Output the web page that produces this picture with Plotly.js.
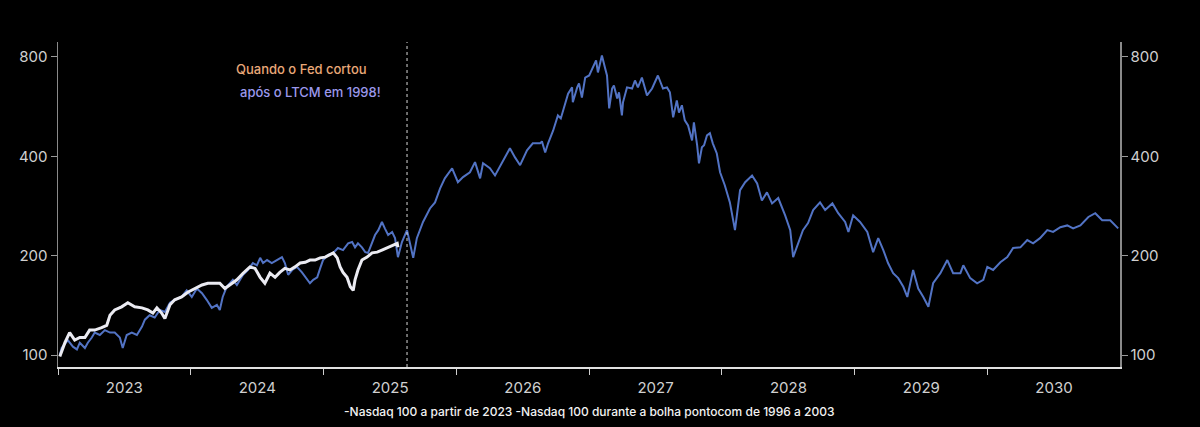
<!DOCTYPE html>
<html>
<head>
<meta charset="utf-8">
<script src="https://cdn.plot.ly/plotly-3.0.1.min.js"></script>
<style>
  html, body { margin: 0; padding: 0; background: #000; }
  #chart { width: 1200px; height: 427px; }
</style>
</head>
<body>
<div id="chart"></div>
<script>
// ---- Data (decimal years on the chart's time axis, values indexed to 100) ----
// Nasdaq 100 during the dot-com bubble 1996-2003 (shifted onto 2023-2030)
const dotcomYears = [
  2023.015, 2023.030, 2023.075, 2023.113, 2023.143, 2023.166, 2023.203, 2023.226, 2023.256, 2023.279,
  2023.316, 2023.354, 2023.392, 2023.429, 2023.467, 2023.490, 2023.520, 2023.557, 2023.595, 2023.633,
  2023.655, 2023.693, 2023.731, 2023.768, 2023.806, 2023.844, 2023.881, 2023.934, 2023.972, 2024.009,
  2024.047, 2024.085, 2024.122, 2024.160, 2024.198, 2024.220, 2024.243, 2024.273, 2024.318,
  2024.348, 2024.394, 2024.431, 2024.469, 2024.499, 2024.522, 2024.544, 2024.574, 2024.612, 2024.650,
  2024.687, 2024.710, 2024.733, 2024.763, 2024.800, 2024.838, 2024.861, 2024.898, 2024.921, 2024.951,
  2024.974, 2024.996, 2025.034, 2025.072, 2025.109, 2025.147, 2025.185, 2025.215, 2025.237, 2025.260,
  2025.290, 2025.313, 2025.335, 2025.365, 2025.388, 2025.411, 2025.441, 2025.463, 2025.486, 2025.516,
  2025.539, 2025.561, 2025.591, 2025.629, 2025.652, 2025.674,
  2025.704, 2025.749, 2025.802, 2025.840, 2025.878, 2025.915, 2025.968, 2026.013, 2026.051, 2026.104,
  2026.141, 2026.179, 2026.202, 2026.254, 2026.292, 2026.345, 2026.405, 2026.443, 2026.480, 2026.533,
  2026.578,
  2026.631, 2026.646, 2026.669, 2026.691, 2026.729, 2026.766, 2026.789, 2026.804, 2026.842, 2026.872,
  2026.879, 2026.910, 2026.925, 2026.947, 2026.970, 2027.000, 2027.030, 2027.053, 2027.068, 2027.098,
  2027.121, 2027.136, 2027.151, 2027.173, 2027.188, 2027.211, 2027.226, 2027.249, 2027.256, 2027.286,
  2027.324, 2027.347, 2027.369, 2027.399, 2027.437, 2027.475, 2027.520, 2027.557, 2027.588, 2027.610,
  2027.633, 2027.663, 2027.678, 2027.701, 2027.723, 2027.746, 2027.776, 2027.791, 2027.814, 2027.829,
  2027.851, 2027.866, 2027.889, 2027.911, 2027.934, 2027.964, 2027.987,
  2028.024, 2028.062, 2028.100, 2028.138, 2028.175, 2028.228, 2028.266, 2028.303, 2028.341,
  2028.379, 2028.424, 2028.476, 2028.514, 2028.537, 2028.574, 2028.612, 2028.650, 2028.687, 2028.740,
  2028.778, 2028.831, 2028.876, 2028.928, 2028.951, 2028.989, 2029.041, 2029.094, 2029.139, 2029.177,
  2029.215, 2029.252, 2029.290, 2029.328, 2029.365, 2029.395, 2029.441, 2029.478, 2029.516, 2029.554,
  2029.591, 2029.644, 2029.697, 2029.742, 2029.795, 2029.817, 2029.870, 2029.923, 2029.968, 2029.998,
  2030.043, 2030.096, 2030.149, 2030.194, 2030.247, 2030.299, 2030.345, 2030.397, 2030.450, 2030.495,
  2030.548, 2030.601, 2030.646, 2030.699, 2030.759, 2030.812, 2030.864, 2030.925, 2030.985
];
const dotcomValues = [
  100, 105, 111, 106, 104, 109, 105, 109, 113, 117,
  115, 119, 117, 117, 113, 105, 115, 117, 115, 122,
  128, 132, 130, 137, 135, 144, 147, 150, 157, 150,
  159, 154, 147, 139, 142, 137, 150, 161, 169,
  163, 175, 181, 190, 187, 197, 190, 194, 190, 194,
  198, 190, 175, 181, 185, 178, 172, 165, 169, 172,
  183, 194, 201, 204, 211, 208, 218, 220, 212, 218,
  212, 205, 204, 218, 231, 239, 253, 242, 231, 236,
  226, 198, 220, 239, 218, 197,
  226, 253, 278, 290, 320, 343, 368, 334, 346, 358,
  384, 343, 381, 368, 350, 384, 423, 397, 376, 417,
  438,
  438, 444, 411, 438, 479, 532, 521, 551, 619, 647,
  583, 647, 665, 603, 693, 703, 743, 781, 718, 808,
  738, 703, 559, 642, 656, 599, 625, 532, 583, 647,
  642, 679, 647, 693, 612, 642, 703, 642, 647, 625,
  525, 591, 543, 571, 514, 496, 447, 507, 432, 381,
  426, 432, 463, 470, 438, 408, 358,
  327, 290, 239, 316, 334, 350, 331, 294, 311,
  288, 299, 265, 239, 198, 218, 239, 251, 275, 290,
  275, 288, 269, 253, 236, 265, 253, 236, 205, 226,
  208, 190, 177, 171, 161, 150, 181, 159, 150, 140,
  165, 177, 194, 177, 177, 187, 171, 165, 169, 185,
  181, 191, 198, 211, 212, 223, 218, 226, 239, 236,
  244, 247, 242, 247, 262, 269, 256, 256, 242
];

// Nasdaq 100 from 2023
const nowYears = [
  2023.015, 2023.053, 2023.090, 2023.128, 2023.166, 2023.203, 2023.241, 2023.279, 2023.331, 2023.369,
  2023.392, 2023.429, 2023.482, 2023.527, 2023.580, 2023.633, 2023.678, 2023.716, 2023.746, 2023.783,
  2023.806, 2023.844, 2023.881, 2023.934, 2023.979, 2024.032, 2024.085, 2024.130, 2024.183, 2024.220,
  2024.258, 2024.348, 2024.394, 2024.446, 2024.484, 2024.522, 2024.559, 2024.597, 2024.635, 2024.672,
  2024.710, 2024.748, 2024.785, 2024.823, 2024.861, 2024.898, 2024.936, 2024.974, 2025.011, 2025.049,
  2025.072, 2025.102, 2025.124, 2025.147, 2025.177, 2025.200, 2025.222, 2025.237, 2025.260, 2025.290,
  2025.328, 2025.365, 2025.403, 2025.441, 2025.478, 2025.516, 2025.554, 2025.561
];
const nowValues = [
  99, 109, 117, 111, 113, 113, 119, 119, 121, 123,
  132, 137, 140, 144, 140, 139, 137, 134, 139, 134,
  129, 142, 147, 150, 155, 159, 163, 165, 165, 165,
  159, 169, 177, 185, 183, 172, 165, 177, 172, 178,
  183, 181, 185, 190, 191, 194, 194, 197, 198, 201,
  204, 197, 185, 178, 172, 161, 157, 169, 181, 194,
  198, 204, 205, 208, 211, 215, 218, 212
];

const fedCutYear = 2025.629;
const yTickVals = [100, 200, 400, 800];
const yTickText = ["100", "200", "400", "800"];
const legendText = "-Nasdaq 100 a partir de 2023 -Nasdaq 100 durante a bolha pontocom de 1996 a 2003";
const noteLine1 = "Quando o Fed cortou";
const noteLine2 = "após o LTCM em 1998!";

// ---- helpers ----
function decToDate(t) {
  const y = Math.floor(t);
  const s = Date.UTC(y, 0, 1), e = Date.UTC(y + 1, 0, 1);
  return new Date(s + (t - y) * (e - s)).toISOString().slice(0, 10);
}

const FONT = "Inter, 'Noto Sans', sans-serif";
const yRange = [Math.log10(92), Math.log10(888)];

const traces = [
  {
    x: dotcomYears.map(decToDate), y: dotcomValues,
    type: "scatter", mode: "lines", yaxis: "y",
    name: "Nasdaq 100 durante a bolha pontocom de 1996 a 2003",
    line: { color: "#5273c4", width: 2 },
    hoverinfo: "skip"
  },
  {
    x: nowYears.map(decToDate), y: nowValues,
    type: "scatter", mode: "lines", yaxis: "y2",
    name: "Nasdaq 100 a partir de 2023",
    line: { color: "#ebebf2", width: 3 },
    hoverinfo: "skip"
  }
];

const axisCommon = {
  type: "log", range: yRange,
  tickvals: yTickVals, ticktext: yTickText,
  ticks: "outside", ticklen: 6, tickcolor: "#9a9a9a",
  showline: true, linecolor: "#8a8a8a", linewidth: 1.5,
  showgrid: false, zeroline: false,
  tickfont: { family: FONT, size: 15, color: "#d0d0d0" }
};

const layout = {
  width: 1200, height: 427,
  paper_bgcolor: "#000", plot_bgcolor: "#000",
  margin: { l: 58, r: 80, t: 42, b: 60 },
  showlegend: false,
  font: { family: FONT, color: "#d8d8d8" },
  xaxis: {
    type: "date",
    range: ["2023-01-01", "2030-12-31"],
    dtick: "M12", tick0: "2023-01-01",
    tickformat: "%Y", ticklabelmode: "period",
    ticks: "outside", ticklen: 6, tickcolor: "#cfcfcf", tickwidth: 1,
    showline: true, linecolor: "#e0e0e0", linewidth: 1.5,
    showgrid: false, zeroline: false,
    tickfont: { family: FONT, size: 15, color: "#d0d0d0" }
  },
  yaxis: Object.assign({ side: "left" }, axisCommon),
  yaxis2: Object.assign({ overlaying: "y", side: "right" }, axisCommon),
  shapes: [
    {
      type: "line", xref: "x", yref: "paper",
      x0: decToDate(fedCutYear), x1: decToDate(fedCutYear), y0: 0, y1: 1,
      line: { color: "#d8d8d8", width: 1, dash: "3px,3px" }
    }
  ],
  annotations: [
    {
      text: noteLine1, xref: "paper", yref: "paper",
      x: 0.1657, y: 0.917, xanchor: "left", yanchor: "middle", showarrow: false,
      font: { family: FONT, size: 13, weight: 500, color: "#e9a878" }
    },
    {
      text: noteLine2, xref: "paper", yref: "paper",
      x: 0.1695, y: 0.846, xanchor: "left", yanchor: "middle", showarrow: false,
      font: { family: FONT, size: 13, weight: 500, color: "#9b98ec" }
    },
    {
      text: legendText, xref: "paper", yref: "paper",
      x: 0.4997, y: -0.138, xanchor: "center", yanchor: "middle", showarrow: false,
      font: { family: FONT, size: 12, weight: 500, color: "#f2f2f2" }
    }
  ]
};

Plotly.newPlot("chart", traces, layout, { staticPlot: true, displayModeBar: false });
</script>
</body>
</html>
